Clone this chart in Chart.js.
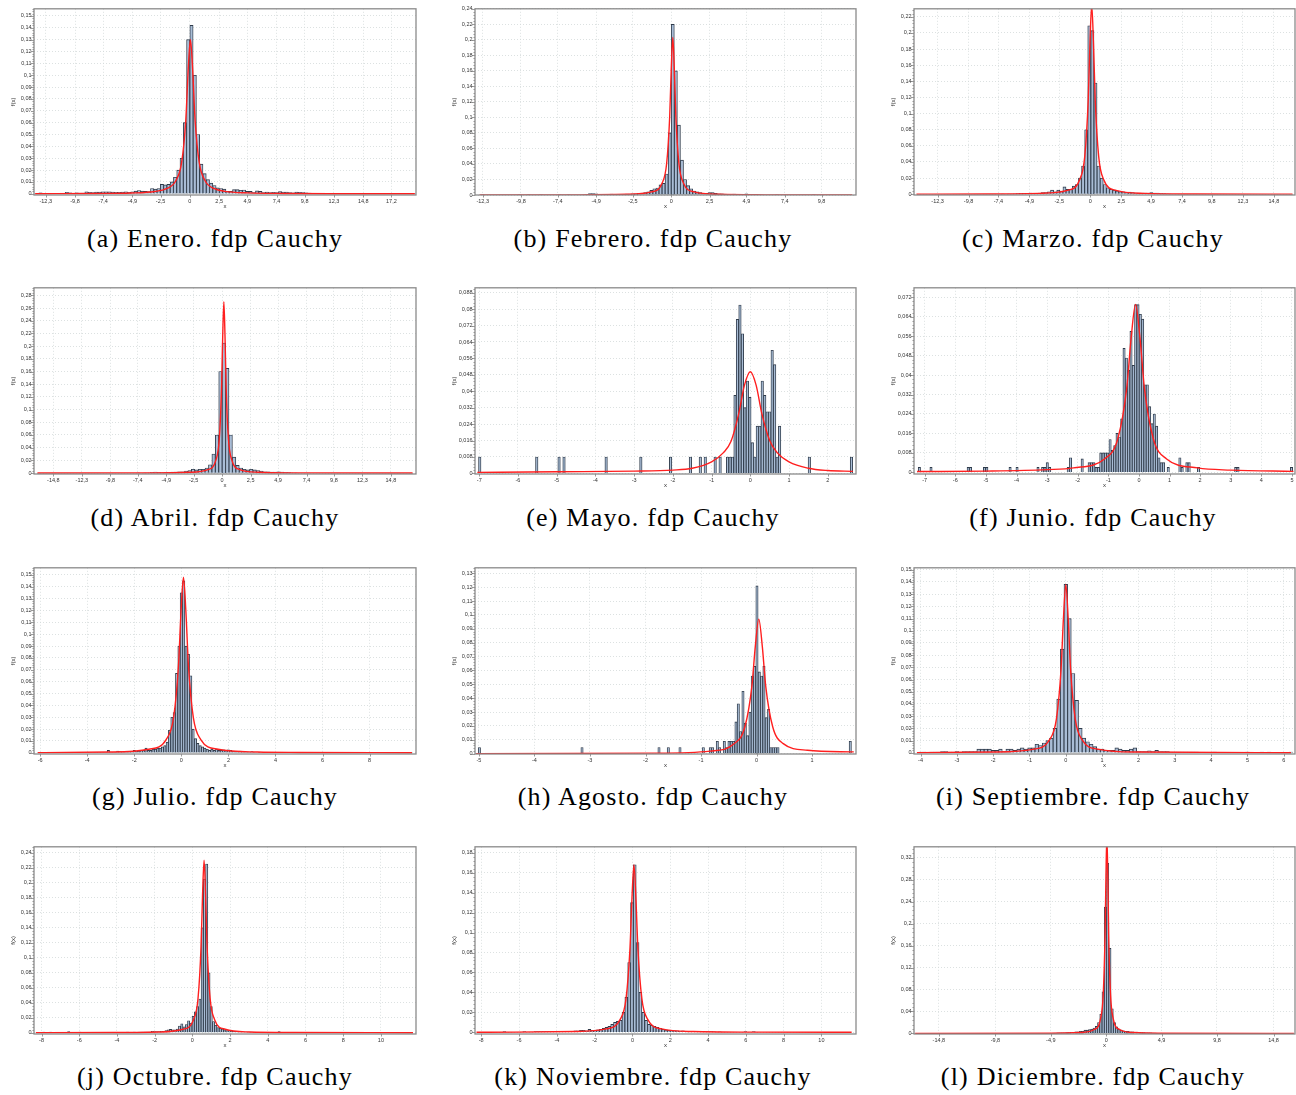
<!DOCTYPE html>
<html>
<head>
<meta charset="utf-8">
<script src="https://cdn.jsdelivr.net/npm/chart.js@4.4.1/dist/chart.umd.min.js"></script>
<style>
  body { margin: 0; width: 1296px; height: 1095px; background: #fff; overflow: hidden; position: relative; }
  canvas { position: absolute; }
  .cap { position: absolute; width: 430px; text-align: center; font-family: "Liberation Serif", serif;
         font-size: 26px; letter-spacing: 1.2px; line-height: 26px; color: #000; white-space: nowrap; }
</style>
</head>
<body>
<script>
// ---- Enero ----
const eneStart = -13.16, eneWidth = 0.28;
const eneHist = [0.0005,0.0008,0,0.0005,0.0003,0.0005,0.0003,0.0004,0.0005,0.0013,0.0008,0.0005,0.0008,0.0006,0.0007,0.0016,0.0012,0.001,0.0015,0.0015,0.0017,0.0016,0.0017,0.0014,0.0012,0.0012,0.0015,0.0016,0.0013,0.0017,0.0022,0.0028,0.0023,0.002,
  0.0018,0.0045,0.004,0.0045,0.008,0.0075,0.008,0.01,0.014,0.02,0.03,0.06,0.13,
  0.142,0.1,0.05,0.025,0.017,0.012,0.009,0.007,0.005,0.0045,0.004,0.002,0.002,
  0.0035,0.0035,0.003,0.0032,0.002,0.002,0.001,0.0025,0.002,0.001,0.0015,0.001,0.0012,0.001,0.0018,0.0015,0.0015,0.001,0.0008,0.0015,0.0012,0.001,0.0008,0.0006,0.0005,
  0.0003,0,0.0002,0,0.0003,0,0,0.0004,0.0005,0.0003,0,0.0002,0,0,0.0004,0,0,0.0003,0,0,0,0.0005,0,0,0,0,0.0002,0,0,0,0.0003];
const eneCurveX = [-13.2,-8,-5,-3,-2,-1.2,-0.7,-0.35,-0.12,0.05,0.22,0.45,0.8,1.3,2.1,3,5,8,12,19.2];
const eneCurveY = [0.0001,0.0003,0.0007,0.002,0.0043,0.011,0.0265,0.0616,0.1083,0.13,0.1083,0.0616,0.0265,0.011,0.0043,0.0021,0.0008,0.0003,0.0001,0.00005];
const eneTicksX = [-12.3,-9.8,-7.4,-4.9,-2.5,0,2.5,4.9,7.4,9.8,12.3,14.8,17.2];

// ---- Febrero ----
const febStart = -12.4, febWidth = 0.2;
const febHist = [0.0003,0,0,0,0,0,0,0,0,0,0,0,0.0003,0,0,0.0003,
  0,0,0,0.0003,0,0,0,0,0,0.0003,0,0,0.0008,0,
  0,0,0,0,0.0005,0.0018,0.0018,0.0015,0.0005,0,
  0.0005,0.0005,0.0012,0.0008,0.001,0.0008,0.0008,0.0012,0.0012,0.0015,
  0.0015,0.002,0.0025,0.003,0.004,0.006,0.008,0.009,
  0.013,0.015,0.027,0.08,0.22,0.16,0.09,0.045,0.02,0.012,
  0.008,0.005,0.004,0.003,0.002,0.002,0.003,0.003,0.002,0.0015,0.0015,0.0012,
  0.001,0.0008,0.0012,0.0008,0.0005,0.0003,0.0015,0.0003,0,0.0003,0,0,0,0,0,0,0.0003,0,0,0,
  0,0,0,0,0,0,0,0,0.0003,0,0,0,0,0,0,0,0,0,0,0,0];
const febCurveX = [-12.5,-5.9,-2.9,-1.3,-0.6,-0.3,-0.1,0,0.1,0.2,0.3,0.5,0.8,1.5,3.1,6.1,11.8];
const febCurveY = [0.00005,0.00022,0.0009,0.004,0.0152,0.0406,0.1015,0.1624,0.203,0.1624,0.1015,0.0406,0.0152,0.004,0.0009,0.00022,0.00006];
const febTicksX = [-12.3,-9.8,-7.4,-4.9,-2.5,0,2.5,4.9,7.4,9.8];

// ---- Marzo ----
const marStart = -13.95, marWidth = 0.25;
const marHist = [0,0,0,0,0,0,0,0,0,0,0,0,0,0,0,0,0,0,0,0,0,0,0,0,0,0,0,0.0003,0,0.0003,
  0.0003,0.0005,0.0008,0.001,0.001,0.001,0.0015,0.0012,0.001,0.0015,0.002,0.002,0.003,0.005,0.003,0.005,0.004,0.009,0.006,0.006,0.01,0.012,0.02,0.035,0.08,
  0.209,0.203,0.138,0.035,0.02,0.012,0.008,0.006,0.005,0.004,0.003,0.003,0.002,0.0025,0.002,0.0015,0.0015,0.0015,0.0015,0.0015,0.002,0.0015,0.0015,0.0012,0.0008,0.0005,
  0.0003,0,0,0,0,0,0,0,0,0,0,0,0,0,0,0,0,0,0,0,0,0,0,0,0,0,0,0,0,0,0,0,0,0,0,0,0,0,0,0];
const marCurveX = [-14,-8.28,-4.08,-1.84,-0.86,-0.44,-0.16,-0.02,0.12,0.26,0.4,0.68,1.1,2.08,4.32,8.52,16.3];
const marCurveY = [0.00009,0.00026,0.00104,0.0047,0.0177,0.047,0.1175,0.188,0.235,0.188,0.1175,0.047,0.0177,0.0047,0.00104,0.00026,0.00007];
const marTicksX = [-12.3,-9.8,-7.4,-4.9,-2.5,0,2.5,4.9,7.4,9.8,12.3,14.8];

// ---- Abril ----
const abrStart = -16.2, abrWidth = 0.3;
const abrHist = [0,0,0,0,0,0,0,0,0,0,0,0,0,0,0,0,0,0,0,0,0,0,0,0,0,0,0,0,0,0.0003,0,0.0003,0.0005,
  0.001,0.0015,0.001,0.0008,0.001,0.001,0.0015,0.0015,0.002,0.002,0.003,0.004,0.006,0.005,0.006,0.006,0.008,0.013,0.03,0.06,
  0.16,0.205,0.165,0.06,0.025,0.012,0.008,0.006,0.005,0.006,0.005,0.004,0.003,0.002,0.002,0.0015,0.0015,0.002,0.0015,0.001,0.001,
  0.0005,0.0003,0,0,0,0,0,0,0,0,0,0,0,0,0,0,0,0,0,0,0,0,0,0,0,0,0,0,0,0,0,0,0,0,0,0];
const abrCurveX = [-16.2,-5.85,-2.85,-1.25,-0.55,-0.25,-0.05,0.05,0.15,0.25,0.35,0.55,0.85,1.55,3.15,6.15,16.7];
const abrCurveY = [0.00004,0.0003,0.0012,0.0054,0.0204,0.054,0.135,0.216,0.27,0.216,0.135,0.054,0.0204,0.0054,0.0012,0.0003,0.00004];
const abrTicksX = [-14.8,-12.3,-9.8,-7.4,-4.9,-2.5,0,2.5,4.9,7.4,9.8,12.3,14.8];

// ---- Mayo ----
const mayStart = -0.619, mayWidth = 0.064;
const mayHist = [0.008,0.008,0.008,0.038,0.075,0.082,0.068,0.032,0.045,0.037,0.015,0.008,0.023,0.023,0.045,0.038,0.03,0.03,0.06,0.053,0.008,0.023];
const mayOutX = [-7.0,-5.52,-4.92,-4.79,-3.72,-2.81,-2.09,-1.55,-1.31,-1.16,-0.9,-0.78,1.5,2.6];
const mayOutY = [0.008,0.008,0.008,0.008,0.008,0.008,0.008,0.008,0.008,0.008,0.008,0.008,0.008,0.008];
const mayCurveX = [-7.05,-5,-3,-2,-1.5,-1,-0.7,-0.5,-0.3,-0.15,0,0.15,0.3,0.5,0.7,1,1.5,2,2.65];
const mayCurveY = [0.0005,0.0008,0.0011,0.0016,0.0025,0.0056,0.01,0.0155,0.029,0.043,0.0495,0.043,0.029,0.016,0.01,0.0056,0.0025,0.0014,0.001];
const mayTicksX = [-7,-6,-5,-4,-3,-2,-1,0,1,2];

// ---- Junio ----
const junStart = -1.36, junWidth = 0.076;
const junHist = [0.002,0.008,0.008,0.008,0.008,0.0135,0.009,0.011,0.016,0.0145,0.022,0.051,0.047,0.042,0.058,0.044,0.069,0.069,0.065,0.063,0.036,0.036,0.027,0.02,0.024,0.019,0.006,0.004,0.004,0];
const junOutX = [-7.21,-6.78,-5.6,-5.52,-5.06,-4.94,-4.21,-3.99,-3.28,-3.13,-3.05,-2.97,-2.89,-2.33,-2.24,-1.88,-1.66,-1.58,-1.5,-1.43,0.98,1.31,1.44,1.53,1.61,1.97,3.19,3.27,4.96];
const junOutY = [0.002,0.002,0.002,0.002,0.002,0.002,0.002,0.002,0.002,0.002,0.002,0.004,0.002,0.002,0.006,0.0055,0.004,0.004,0.004,0.002,0.002,0.006,0.002,0.004,0.004,0.002,0.002,0.002,0.002];
const junCurveX = [-7.25,-5,-3,-2.14,-1.125,-0.69,-0.4,-0.255,-0.11,0.035,0.18,0.47,0.905,1.92,3,5.05];
const junCurveY = [0.0003,0.0005,0.0011,0.0018,0.0055,0.0138,0.0345,0.0552,0.069,0.0552,0.0345,0.0138,0.0055,0.0018,0.0009,0.0004];
const junTicksX = [-7,-6,-5,-4,-3,-2,-1,0,1,2,3,4,5];

// ---- Julio ----
const julStart = -6.05, julWidth = 0.1;
const julHist = [0.0003,0.0003,0.0003,0.0003,0.0005,0.0003,0.0003,0.0005,0.0003,0.0005,0.0005,0.0005,0.0003,0.0005,0.0005,0.0005,0.0005,0.0005,0.0005,0.0003,0.0005,0.0005,0.0005,0.0005,0.0005,0.0005,0.0005,0.0005,
  0.0005,0.002,0.0005,0.0005,0.0005,0.0015,0.001,0.0005,0.001,0.001,0.001,0.001,0.002,0.0015,0.0015,0.002,0.002,0.004,0.002,0.002,0.003,0.003,0.004,0.004,0.005,0.006,0.009,0.019,
  0.03,0.034,0.067,0.09,0.135,0.145,0.09,0.083,0.065,0.02,0.012,0.008,0.006,0.005,0.004,0.003,0.002,0.003,0.002,0.003,0.002,0.002,0.0025,0.002,0.0025,0.002,0.0015,0.001,
  0.001,0.0015,0.001,0.001,0.0005,0.0005,0.001,0.0005,0,0.0005,0,0,0.0005,0,0,0,0,0.0005,0,0,0,0.0005,0,0,0,0];
const julCurveX = [-6.1,-3.06,-1.38,-0.645,-0.33,-0.12,-0.015,0.09,0.195,0.3,0.51,0.825,1.56,3.24,5,9.8];
const julCurveY = [0.00017,0.00065,0.003,0.0112,0.0296,0.074,0.1184,0.148,0.1184,0.074,0.0296,0.0112,0.003,0.00065,0.0003,0.00007];
const julTicksX = [-6,-4,-2,0,2,4,6,8];

// ---- Agosto ----
const agoStart = -0.854, agoWidth = 0.042;
const agoHist = [0.0045,0.0045,0,0.009,0.0045,0,0.009,0.0045,0.009,0.009,0.009,0.023,0.036,0.016,0.045,0.022,0.013,0.03,0.056,0.063,0.121,0.059,0.056,0.063,0.026,0.032,0.0045,0.0045,0.0045,0.0045];
const agoOutX = [-5.01,-3.13,-1.745,-1.61,-1.37,-0.96,1.7];
const agoOutY = [0.0045,0.0045,0.0045,0.0045,0.0045,0.0045,0.009];
const agoCurveX = [-5.05,-1.835,-0.835,-0.4,-0.21,-0.085,-0.0225,0.04,0.1025,0.165,0.29,0.48,0.915,1.75];
const agoCurveY = [0.00006,0.00043,0.0019,0.0073,0.0194,0.0485,0.0776,0.097,0.0776,0.0485,0.0194,0.0073,0.0025,0.0013];
const agoTicksX = [-5,-4,-3,-2,-1,0,1];

// ---- Septiembre ----
const sepStart = -4.05, sepWidth = 0.1;
const sepHist = [0.0005,0.0005,0,0.0005,0.0005,0.0005,0.001,0.001,0.0005,0.0005,0.001,0.0005,0.001,0.001,0.001,0.001,0.003,0.003,0.003,0.003,0.002,0.002,0.003,0.001,0.003,0.003,0.002,0.003,0.004,0.003,0.004,0.004,0.007,0.006,0.008,0.01,0.012,
  0.02,0.044,0.085,0.138,0.11,0.065,0.043,0.02,0.012,0.009,0.007,0.005,0.003,0.003,0.002,0.002,0.002,0.004,0.003,0.002,0.002,0.003,0.004,0.001,0.001,0.001,0.0015,0.001,0.002,0.001,
  0.001,0.001,0.0005,0.0005,0.0005,0.0005,0.0005,0.0005,0.0005,0.0005,0,0,0,0,0.0005,0,0,0,0,0,0,0,0,0.0005,0,0,0,0.0005,0,0.0005,0,0,0,0,0,0.0005];
const sepCurveX = [-4.1,-1.95,-0.91,-0.455,-0.26,-0.13,-0.065,0,0.065,0.13,0.26,0.455,0.91,1.95,6.2];
const sepCurveY = [0.00014,0.0006,0.0028,0.0104,0.0276,0.069,0.1104,0.138,0.1104,0.069,0.0276,0.0104,0.0028,0.0006,0.00006];
const sepTicksX = [-4,-3,-2,-1,0,1,2,3,4,5,6];

// ---- Octubre ----
const octStart = -8.3, octWidth = 0.12;
const octHist = [0.0003,0.0003,0.0003,0.001,0.0003,0.0003,0.001,0.0003,0.0005,0.0003,
  0.0003,0.0005,0.0003,0.0003,0.0015,0.0003,0.0003,0.0005,0.0003,0.001,
  0.0003,0.0005,0.0003,0.0003,0.0005,0.0003,0.0005,0.0003,0.0005,0.0005,
  0.0005,0.0003,0.0005,0.0005,0.0003,0.0005,0.0005,0.0005,0.0005,0.0005,
  0.0008,0.0005,0.0005,0.0008,0.0005,0.0008,0.001,0.0008,0.001,
  0.001,0.001,0.002,0.0015,0.0015,0.0015,0.002,0.002,0.003,0.004,0.0045,0.004,0.004,0.005,0.009,0.012,0.008,0.011,0.016,0.013,0.022,0.028,0.035,
  0.045,0.14,0.205,0.225,0.08,0.035,0.015,0.01,0.007,0.006,0.005,0.004,0.003,0.003,0.002,0.002,0.002,0.0015,0.0015,0.001,
  0.001,0.001,0.0008,0.0008,0.0005,0.0005,0.0005,0.0005,0.0003,0.0003,0.0003,0.0003,0.0005,0.0003,0.0003,0.0015,0.0003,0.0003,0.0003];
const octCurveX = [-8.3,-4.18,-1.78,-0.5,0.06,0.3,0.46,0.54,0.62,0.7,0.78,0.94,1.18,1.74,3.02,5.42,11.7];
const octCurveY = [0.00007,0.00026,0.001,0.0046,0.0174,0.046,0.115,0.184,0.23,0.184,0.115,0.046,0.0174,0.0046,0.001,0.00026,0.00005];
const octTicksX = [-8,-6,-4,-2,0,2,4,6,8,10];

// ---- Noviembre ----
const novStart = -8.2, novWidth = 0.15;
const novHist = [0.0003,0.0003,0.0003,0.0003,0.0003,0.0003,0.0003,0.0003,0.0003,0.0008,0.0003,0.0003,0.0003,0.0003,0.0003,0.0003,0.0008,0.0003,0.0003,0.0003,
  0.0008,0.0008,0.0008,0.0008,0.0008,0.0008,0.0008,0.0008,0.0008,0.0008,0.001,0.001,0.001,0.001,0.0015,0.0015,0.002,0.002,0.0015,0.003,0.002,0.002,0.0025,0.003,0.004,0.005,0.006,0.008,0.01,0.011,0.012,0.02,0.035,0.07,
  0.13,0.168,0.09,0.04,0.02,0.012,0.008,0.007,0.006,0.005,0.004,0.003,0.0025,0.002,0.002,0.0015,0.0015,0.001,
  0.0015,0.001,0.001,0.001,0.0008,0.0008,0.001,0.0005,0.0005,0.0005,0.0008,0.0005,0.0003,0.0005,0.0003,0.0003,0.0003,0.0003,0.0003,0.0003,0.0003,0.0003,0.0008,0.0003,0.0003,0.0008,0.0003];
const novCurveX = [-8.25,-6.22,-3.07,-1.39,-0.655,-0.34,-0.13,-0.025,0.08,0.185,0.29,0.5,0.815,1.55,3.23,6.38,11.6];
const novCurveY = [0.0001,0.00019,0.00074,0.0034,0.0127,0.0336,0.084,0.134,0.168,0.134,0.084,0.0336,0.0127,0.0034,0.00074,0.00019,0.00006];
const novTicksX = [-8,-6,-4,-2,0,2,4,6,8,10];

// ---- Diciembre ----
const dicStart = -5.97, dicWidth = 0.2;
const dicHist = [0,0,0,0.0003,0.0003,0.0005,0.0008,0.0008,0.001,0.001,0.001,0.001,0.0015,0.0015,0.002,0.002,0.003,0.003,0.004,0.004,0.006,0.006,0.007,0.008,0.01,0.013,0.02,0.035,0.076,0.23,
  0.31,0.155,0.045,0.02,0.012,0.008,0.006,0.005,0.004,0.004,0.003,0.003,0.002,0.0025,0.002,0.0015,0.0015,0.001,0.001,0.001,0.0008,0.0008,0.0005,0.0005];
const dicCurveX = [-16.9,-4.74,-2.34,-1.06,-0.5,-0.26,-0.1,-0.02,0.06,0.14,0.22,0.38,0.62,1.18,2.46,4.86,16.6];
const dicCurveY = [0.00003,0.0004,0.0016,0.0072,0.0272,0.072,0.18,0.288,0.36,0.288,0.18,0.072,0.0272,0.0072,0.0016,0.0004,0.00003];
const dicTicksX = [-14.8,-9.8,-4.9,0,4.9,9.8,14.8];

const panels = [
  { cap: '(a) Enero. fdp Cauchy', xMin: -13.3, xMax: 19.3, yMin: -0.001, yMax: 0.156, yStep: 0.01,
    start: eneStart, width: eneWidth, hist: eneHist, cx: eneCurveX, cy: eneCurveY, ticks: eneTicksX },
  { cap: '(b) Febrero. fdp Cauchy', xMin: -12.8, xMax: 12.05, yMin: 0, yMax: 0.24, yStep: 0.02,
    start: febStart, width: febWidth, hist: febHist, cx: febCurveX, cy: febCurveY, ticks: febTicksX },
  { cap: '(c) Marzo. fdp Cauchy', xMin: -14.2, xMax: 16.5, yMin: -0.001, yMax: 0.23, yStep: 0.02,
    start: marStart, width: marWidth, hist: marHist, cx: marCurveX, cy: marCurveY, ticks: marTicksX },
  { cap: '(d) Abril. fdp Cauchy', xMin: -16.5, xMax: 17.0, yMin: -0.0015, yMax: 0.292, yStep: 0.02,
    start: abrStart, width: abrWidth, hist: abrHist, cx: abrCurveX, cy: abrCurveY, ticks: abrTicksX },
  { cap: '(e) Mayo. fdp Cauchy', xMin: -7.11, xMax: 2.73, yMin: -0.0003, yMax: 0.0904, yStep: 0.008,
    start: mayStart, width: mayWidth, hist: mayHist, outX: mayOutX, outY: mayOutY, cx: mayCurveX, cy: mayCurveY, ticks: mayTicksX },
  { cap: '(f) Junio. fdp Cauchy', xMin: -7.35, xMax: 5.1, yMin: -0.0007, yMax: 0.0759, yStep: 0.008,
    start: junStart, width: junWidth, hist: junHist, outX: junOutX, outY: junOutY, cx: junCurveX, cy: junCurveY, ticks: junTicksX },
  { cap: '(g) Julio. fdp Cauchy', xMin: -6.26, xMax: 9.97, yMin: -0.001, yMax: 0.156, yStep: 0.01,
    start: julStart, width: julWidth, hist: julHist, cx: julCurveX, cy: julCurveY, ticks: julTicksX },
  { cap: '(h) Agosto. fdp Cauchy', xMin: -5.07, xMax: 1.79, yMin: -0.0002, yMax: 0.134, yStep: 0.01,
    start: agoStart, width: agoWidth, hist: agoHist, outX: agoOutX, outY: agoOutY, cx: agoCurveX, cy: agoCurveY, ticks: agoTicksX },
  { cap: '(i) Septiembre. fdp Cauchy', xMin: -4.18, xMax: 6.31, yMin: -0.001, yMax: 0.1516, yStep: 0.01,
    start: sepStart, width: sepWidth, hist: sepHist, cx: sepCurveX, cy: sepCurveY, ticks: sepTicksX },
  { cap: '(j) Octubre. fdp Cauchy', xMin: -8.4, xMax: 11.86, yMin: -0.0017, yMax: 0.248, yStep: 0.02,
    start: octStart, width: octWidth, hist: octHist, cx: octCurveX, cy: octCurveY, ticks: octTicksX },
  { cap: '(k) Noviembre. fdp Cauchy', xMin: -8.33, xMax: 11.83, yMin: -0.0017, yMax: 0.186, yStep: 0.02,
    start: novStart, width: novWidth, hist: novHist, cx: novCurveX, cy: novCurveY, ticks: novTicksX },
  { cap: '(l) Diciembre. fdp Cauchy', xMin: -17.0, xMax: 16.7, yMin: -0.001, yMax: 0.34, yStep: 0.04,
    start: dicStart, width: dicWidth, hist: dicHist, cx: dicCurveX, cy: dicCurveY, ticks: dicTicksX },
];

// page layout: plot frame of each column / row, caption centres
const COLS = [[34, 416], [475, 856], [914, 1295]];
const ROWS = [[6, 195], [285, 474], [565, 754], [844, 1034]];
const CAP_X = [215, 653, 1093];
const CAP_Y = [241, 520, 799, 1079];
const AXIS_W = 36, AXIS_H = 17, PAD = 3;

const fmt = v => String(v).replace('.', ',');

function barsFor(p) {
  const pts = p.hist.map((v, k) => ({ x: p.start + (k + 0.5) * p.width, y: v }));
  (p.outX || []).forEach((x, i) => {
    const k = Math.round((x - p.start) / p.width - 0.5);
    pts.push({ x: p.start + (k + 0.5) * p.width, y: p.outY[i] });
  });
  return pts.sort((a, b) => a.x - b.x);
}

// frame around the plot + small tick marks on the axes
const framePlugin = {
  id: 'frame',
  afterDatasetsDraw(chart, args, opts) {
    const { ctx, chartArea: a, scales: { x, y } } = chart;
    ctx.save();
    ctx.strokeStyle = '#555';
    ctx.lineWidth = 0.6;
    const minor = opts.step / 5;
    for (let i = 0; i * minor <= y.max + 1e-9; i++) {
      const py = Math.round(y.getPixelForValue(i * minor)) + 0.5;
      const len = i % 5 === 0 ? 3 : 1.5;
      ctx.beginPath(); ctx.moveTo(a.left - len, py); ctx.lineTo(a.left, py); ctx.stroke();
    }
    x.ticks.forEach(t => {
      const px = Math.round(x.getPixelForValue(t.value)) + 0.5;
      ctx.beginPath(); ctx.moveTo(px, a.bottom); ctx.lineTo(px, a.bottom + 2.5); ctx.stroke();
    });
    ctx.strokeStyle = '#8a8a8a';
    ctx.lineWidth = 1.3;
    ctx.strokeRect(a.left, a.top, a.right - a.left, a.bottom - a.top);
    ctx.restore();
  }
};

const tickFont = { family: 'Liberation Sans', size: 5.5 };
const titleFont = { family: 'Liberation Sans', size: 6 };
const gridOpts = { color: '#d3d9d9', lineWidth: 0.8, drawTicks: false, offset: false };
const borderOpts = { display: false, dash: [1, 2] };

panels.forEach((p, i) => {
  const [left, right] = COLS[i % 3];
  const [top, bottom] = ROWS[Math.floor(i / 3)];

  const canvas = document.createElement('canvas');
  canvas.width = right - left + AXIS_W + PAD;
  canvas.height = bottom - top + PAD + AXIS_H;
  canvas.style.left = (left - AXIS_W) + 'px';
  canvas.style.top = (top - PAD) + 'px';
  document.body.appendChild(canvas);

  const cap = document.createElement('div');
  cap.className = 'cap';
  cap.textContent = p.cap;
  cap.style.left = (CAP_X[i % 3] - 215) + 'px';
  cap.style.top = (CAP_Y[Math.floor(i / 3)] - 15) + 'px';
  document.body.appendChild(cap);

  new Chart(canvas, {
    type: 'bar',
    data: {
      datasets: [
        {
          type: 'line',
          data: p.cx.map((x, k) => ({ x: x, y: p.cy[k] })),
          borderColor: '#ff1f1f',
          borderWidth: 1.4,
          pointRadius: 0,
          cubicInterpolationMode: 'monotone',
          order: 0
        },
        {
          type: 'bar',
          data: barsFor(p),
          backgroundColor: '#a9bdd6',
          borderColor: '#2e3a49',
          borderWidth: 0.9,
          barPercentage: 1,
          categoryPercentage: 1,
          order: 1
        }
      ]
    },
    options: {
      responsive: false,
      animation: false,
      events: [],
      layout: { padding: { left: 0, top: PAD, right: PAD, bottom: 0 } },
      plugins: {
        legend: { display: false },
        tooltip: { enabled: false },
        frame: { step: p.yStep }
      },
      scales: {
        x: {
          type: 'linear',
          min: p.xMin,
          max: p.xMax,
          offset: false,
          grid: gridOpts,
          border: borderOpts,
          afterBuildTicks: s => { s.ticks = p.ticks.map(v => ({ value: v })); },
          afterFit: s => { s.height = AXIS_H; },
          ticks: { font: tickFont, color: '#333', padding: 3, maxRotation: 0, autoSkip: false, callback: v => fmt(v) },
          title: { display: true, text: 'x', font: titleFont, color: '#333', padding: { top: 0, bottom: 2 } }
        },
        y: {
          min: p.yMin,
          max: p.yMax,
          grid: gridOpts,
          border: borderOpts,
          afterBuildTicks: s => {
            const t = [];
            for (let k = 0; k * p.yStep <= p.yMax + 1e-9; k++) t.push({ value: +(k * p.yStep).toFixed(4) });
            s.ticks = t;
          },
          afterFit: s => { s.width = AXIS_W; },
          ticks: { font: tickFont, color: '#333', padding: 2.5, autoSkip: false, callback: v => fmt(v) },
          title: { display: true, text: 'f(x)', font: titleFont, color: '#333', padding: { top: 12, bottom: 0 } }
        }
      }
    },
    plugins: [framePlugin]
  });
});
</script>
</body>
</html>
